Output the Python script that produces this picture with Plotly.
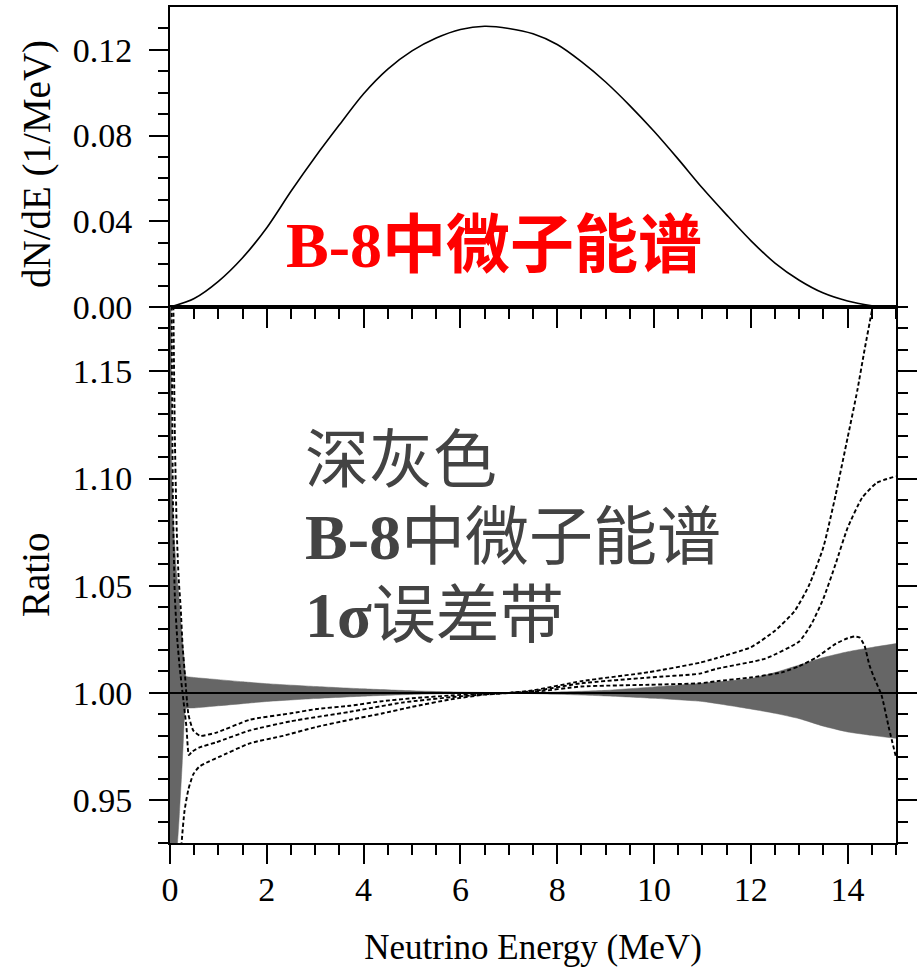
import plotly.graph_objects as go

# ---------------- data ----------------
spec_E = [0, 0.5, 1, 1.5, 2, 2.5, 3, 3.5, 4, 4.5, 5, 5.5, 6, 6.5, 7, 7.5, 8, 8.5,
          9, 9.5, 10, 10.5, 11, 11.5, 12, 12.5, 13, 13.5, 14, 14.5, 14.7]
spec_val = [0, 0.004, 0.012, 0.023, 0.037, 0.054, 0.070, 0.085, 0.0995, 0.111,
            0.1195, 0.1255, 0.1295, 0.131, 0.130, 0.1275, 0.1225, 0.1145, 0.105,
            0.094, 0.082, 0.069, 0.0555, 0.043, 0.031, 0.0205, 0.0125, 0.0065,
            0.0028, 0.0006, 0.0]

band_E = [0, 0.02, 0.04, 0.08, 0.14, 0.17, 0.19, 0.21, 0.24, 0.27, 0.29, 0.31,
          0.33, 0.5, 1, 1.5, 2, 3, 4, 5, 6, 7, 8, 9, 10, 11, 12, 12.5, 13, 13.5,
          14, 14.5, 15]
band_hi = [1.30, 1.19, 1.10, 1.075, 1.055, 1.049, 1.043, 1.037, 1.029, 1.021,
           1.016, 1.010, 1.0078, 1.0072, 1.0062, 1.0052, 1.0043, 1.0030, 1.0019,
           1.0010, 1.0004, 1.0001, 1.0004, 1.0012, 1.0028, 1.0045, 1.0067,
           1.0095, 1.0130, 1.0165, 1.0192, 1.0212, 1.0230]
band_lo = [0.85, 0.87, 0.89, 0.905, 0.925, 0.935, 0.942, 0.950, 0.962, 0.975,
           0.985, 0.9915, 0.9928, 0.9930, 0.9940, 0.9950, 0.9960, 0.9974, 0.9985,
           0.9993, 0.9998, 0.9999, 0.9994, 0.9986, 0.9975, 0.9960, 0.9925,
           0.9905, 0.9880, 0.9845, 0.9818, 0.9802, 0.9788]

curveA_E = [0.15, 0.24, 0.3, 0.38, 0.48, 0.6, 0.8, 1.0, 1.65, 2.34, 3.0, 3.72,
            4.4, 5.0, 5.8, 6.5, 7.0, 7.5, 8.5, 9.9, 10.95, 11.3, 12.0, 12.5,
            12.9, 13.2, 13.5, 13.75, 14.0, 14.2, 14.35, 14.5, 14.6]
curveA = [0.88, 0.930, 0.945, 0.955, 0.962, 0.9655, 0.968, 0.970, 0.9765, 0.980,
          0.9840, 0.9875, 0.9905, 0.9935, 0.9970, 0.9992, 1.0, 1.0012, 1.0055,
          1.0097, 1.0141, 1.0163, 1.0213, 1.029, 1.038, 1.050, 1.068, 1.092,
          1.119, 1.141, 1.160, 1.178, 1.19]

curveB_E = [0.02, 0.04, 0.06, 0.1, 0.15, 0.2, 0.28, 0.34, 0.39, 0.45, 0.6, 0.96,
            1.65, 2.5, 3.72, 4.8, 5.8, 6.5, 7.0, 7.5, 8.5, 9.9, 10.95, 11.3, 12.3,
            13.0, 13.25, 13.5, 13.75, 14.0, 14.3, 14.6, 15.0]
curveB = [1.25, 1.15, 1.09, 1.045, 1.025, 1.012, 0.996, 0.984, 0.971, 0.9725,
          0.9745, 0.977, 0.9825, 0.9868, 0.9912, 0.9955, 0.9980, 0.9993, 1.0,
          1.0008, 1.0045, 1.0072, 1.009, 1.0113, 1.0160, 1.024, 1.032, 1.044,
          1.060, 1.077, 1.091, 1.098, 1.101]

curveC_E = [0.05, 0.07, 0.1, 0.14, 0.18, 0.22, 0.26, 0.31, 0.38, 0.48, 0.62, 0.96,
            1.65, 2.5, 3.03, 3.72, 4.4, 5.0, 5.8, 6.5, 7.0, 7.5, 8.5, 9.9, 10.95,
            11.3, 12.0, 12.66, 13.0, 13.34, 13.76, 14.0, 14.14, 14.25, 14.35,
            14.45, 14.55, 14.7, 14.86, 15.0]
curveC = [1.25, 1.18, 1.12, 1.075, 1.053, 1.040, 1.022, 1.008, 0.990, 0.9825,
          0.980, 0.9815, 0.9875, 0.9905, 0.9925, 0.994, 0.9962, 0.9975, 0.9988,
          0.9997, 1.0, 1.0004, 1.003, 1.0038, 1.0045, 1.0055, 1.0072, 1.0097,
          1.0125, 1.0163, 1.023, 1.0255, 1.0263, 1.0258, 1.022, 1.013, 1.007,
          0.999, 0.983, 0.970]

ratio_ref = 1.0

top_title = "dN/dE (1/MeV)"
bottom_title = "Ratio"
x_title = "Neutrino Energy (MeV)"
red_label = "<b>B-8中微子能谱</b>"
gray_lines = ["深灰色", "<b>B-8</b>中微子能谱", "<b>1σ</b>误差带"]

# ---------------- layout constants ----------------
W, H = 917, 975
L_M, R_M, T_M, B_M = 170, 21, 7, 132
PLOT_H = H - T_M - B_M
SPLIT = 536 / PLOT_H

FONT = "Liberation Serif, Noto Sans CJK SC, serif"
CJK_FONT = "Liberation Serif, Noto Sans CJK SC, sans-serif"

fig = go.Figure()

fig.add_trace(go.Scatter(x=spec_E, y=spec_val, mode="lines",
                         line=dict(color="black", width=1.6, shape="spline", smoothing=0.8),
                         xaxis="x", yaxis="y", hoverinfo="skip"))

fig.add_trace(go.Scatter(x=band_E, y=band_lo, mode="lines",
                         line=dict(color="#666666", width=0.5, shape="spline", smoothing=0.5),
                         xaxis="x2", yaxis="y2", hoverinfo="skip"))
fig.add_trace(go.Scatter(x=band_E, y=band_hi, mode="lines", fill="tonexty",
                         fillcolor="#666666",
                         line=dict(color="#666666", width=0.5, shape="spline", smoothing=0.5),
                         xaxis="x2", yaxis="y2", hoverinfo="skip"))

for ce, cv in [(curveA_E, curveA), (curveB_E, curveB), (curveC_E, curveC)]:
    fig.add_trace(go.Scatter(x=ce, y=cv, mode="lines",
                             line=dict(color="black", width=1.9, dash="4px,2.5px",
                                       shape="spline", smoothing=0.5),
                             xaxis="x2", yaxis="y2", hoverinfo="skip"))

fig.add_shape(type="line", xref="x2 domain", yref="y2", x0=0, x1=1,
              y0=ratio_ref, y1=ratio_ref, line=dict(color="black", width=2),
              layer="above")

axis_common = dict(showline=True, linecolor="black", linewidth=2, showgrid=False,
                   zeroline=False, ticks="outside", tickcolor="black", tickwidth=2,
                   ticklen=19, automargin=False,
                   tickfont=dict(family=FONT, size=34, color="black"))

minor_x = dict(dtick=0.5, tick0=0, ticks="outside", ticklen=10, tickwidth=1.6,
               tickcolor="black")

fig.update_layout(
    width=W, height=H, margin=dict(l=L_M, r=R_M, t=T_M, b=B_M, autoexpand=False),
    paper_bgcolor="white", plot_bgcolor="white", showlegend=False,
    xaxis=dict(axis_common, domain=[0, 1], anchor="y", range=[0, 15],
               tickmode="linear", tick0=0, dtick=2, showticklabels=False,
               mirror=True, minor=minor_x),
    yaxis=dict(axis_common, domain=[SPLIT, 1], anchor="x", range=[0, 0.14],
               tickmode="linear", tick0=0, dtick=0.04, tickformat=".2f",
               mirror=True, ticklabelstandoff=10,
               minor=dict(tickmode="array",
                          tickvals=[0.01, 0.02, 0.03, 0.05, 0.06, 0.07, 0.09, 0.10, 0.11, 0.13],
                          ticks="outside", ticklen=10, tickwidth=1.6, tickcolor="black")),
    xaxis2=dict(axis_common, domain=[0, 1], anchor="y2", range=[0, 15],
                tickmode="linear", tick0=0, dtick=2, mirror=True, minor=minor_x,
                ticklabelstandoff=-4,
                title=dict(text=x_title, font=dict(family=FONT, size=35, color="black"),
                           standoff=28)),
    yaxis2=dict(axis_common, domain=[0, SPLIT], anchor="x2", range=[0.93, 1.18],
                tickmode="linear", tick0=0.95, dtick=0.05, tickformat=".2f",
                mirror="ticks", ticklabelstandoff=10,
                minor=dict(tickmode="linear", tick0=0.93, dtick=0.01, ticks="outside",
                           ticklen=10, tickwidth=1.6, tickcolor="black")),
)

fig.add_annotation(text=top_title, xref="paper", yref="paper",
                   x=(37 - L_M) / (W - L_M - R_M), y=(H - B_M - 164) / PLOT_H,
                   textangle=-90, showarrow=False, xanchor="center", yanchor="middle",
                   font=dict(family=FONT, size=39, color="black"))
fig.add_annotation(text=bottom_title, xref="paper", yref="paper",
                   x=(35 - L_M) / (W - L_M - R_M), y=(H - B_M - 575) / PLOT_H,
                   textangle=-90, showarrow=False, xanchor="center", yanchor="middle",
                   font=dict(family=FONT, size=39, color="black"))

fig.add_annotation(text=red_label, xref="x", yref="y", x=2.36, y=0.0285,
                   showarrow=False, xanchor="left", yanchor="middle",
                   font=dict(family=CJK_FONT, size=64, color="#ff0000"))

gray_y = [1.1082, 1.0727, 1.0363]
for txt, gy in zip(gray_lines, gray_y):
    fig.add_annotation(text=txt, xref="x2", yref="y2", x=2.75, y=gy,
                       showarrow=False, xanchor="left", yanchor="middle",
                       font=dict(family=CJK_FONT, size=64, color="#434343"))

fig.write_html("out.html")
